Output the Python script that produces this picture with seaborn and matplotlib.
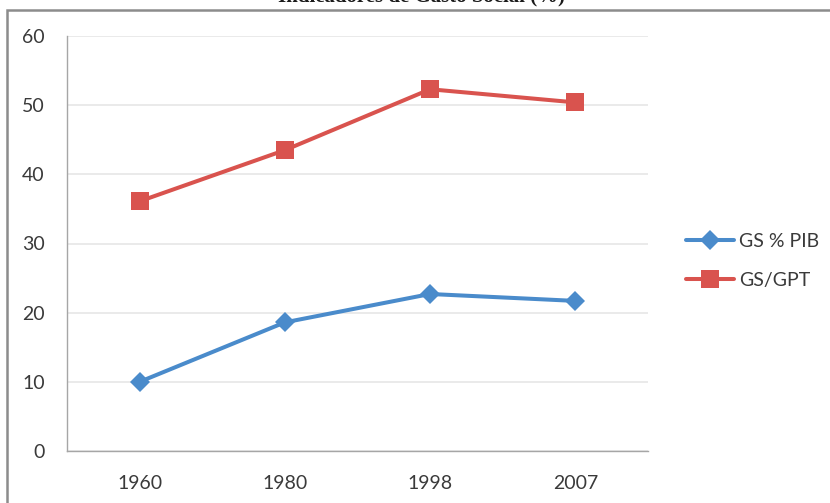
import matplotlib
matplotlib.use("Agg")
import matplotlib.pyplot as plt
import pandas as pd
import seaborn as sns
from matplotlib.patches import Rectangle

# data
years = ["1960", "1980", "1998", "2007"]
gs_pib = [10.0, 18.6, 22.7, 21.7]
gs_gpt = [36.1, 43.5, 52.3, 50.4]
series_names = ["GS % PIB", "GS/GPT"]
y_ticks = [0, 10, 20, 30, 40, 50, 60]

sns.set_theme(style="white")
plt.rcParams['font.family'] = ['Lato', 'DejaVu Sans']

df = pd.DataFrame({
    "year": years * 2,
    "value": gs_pib + gs_gpt,
    "serie": [series_names[0]] * len(years) + [series_names[1]] * len(years),
})

blue = "#4A8BCB"
red = "#D9534E"
txt = "#3A3A3A"

fig = plt.figure(figsize=(8.3, 5.03), dpi=100)
ax = fig.add_axes([67 / 830, 1 - 451 / 503, (648 - 67) / 830, (451 - 36) / 503])

sns.lineplot(data=df, x="year", y="value", hue="serie", style="serie",
             markers={"GS % PIB": "D", "GS/GPT": "s"}, dashes=False,
             palette={"GS % PIB": blue, "GS/GPT": red},
             linewidth=2.9, markeredgewidth=0, ax=ax, sort=False)
for ln in ax.get_lines():
    if ln.get_marker() == "D":
        ln.set_markersize(10)
    elif ln.get_marker() == "s":
        ln.set_markersize(12.5)

ax.set_xlim(-0.5, 3.5)
ax.set_ylim(0, 60)
ax.set_yticks(y_ticks)
ax.yaxis.grid(True, color="#E6E6E6", linewidth=1.2)
ax.set_axisbelow(True)
for s in ["top", "right"]:
    ax.spines[s].set_visible(False)
for s in ["left", "bottom"]:
    ax.spines[s].set_color("#A6A6A6")
    ax.spines[s].set_linewidth(1.0)
ax.tick_params(axis="y", length=0, pad=16, labelsize=14, labelcolor=txt)
ax.tick_params(axis="x", length=0, pad=17, labelsize=14, labelcolor=txt)
ax.set_xlabel("")
ax.set_ylabel("")

handles, labels = ax.get_legend_handles_labels()
for h in handles:
    if h.get_marker() == "D":
        h.set_markersize(10)
    elif h.get_marker() == "s":
        h.set_markersize(12.5)
leg = ax.legend(handles, labels, loc="center left", bbox_to_anchor=(1.035, 0.458),
                frameon=False, fontsize=14, handlelength=2.5, handletextpad=0.25,
                labelspacing=1.16, labelcolor=txt)

# outer chart frame, clipped by the image edges
fig.patches.append(Rectangle((7 / 830, -0.1), 1.2, 1 - 10 / 503 + 0.1,
                             transform=fig.transFigure, fill=False,
                             edgecolor="#8C8C8C", linewidth=1.8))

fig.text(421 / 830, 1 - 1.8 / 503, "Indicadores de Gasto Social (%)",
         ha="center", va="baseline", fontsize=15, fontweight="bold",
         family=["Liberation Serif", "DejaVu Serif"], color="#1A1A1A")

fig.savefig("out.png", dpi=100)
